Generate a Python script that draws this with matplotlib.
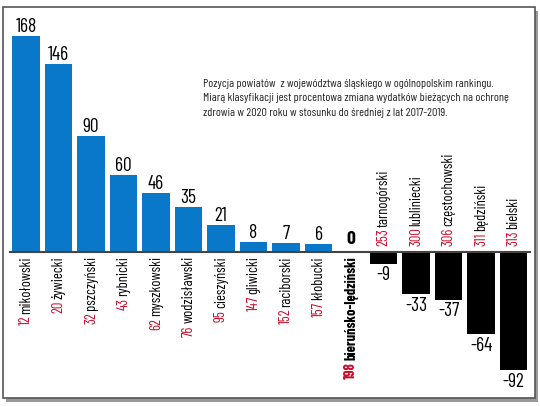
import matplotlib
matplotlib.use("Agg")
import matplotlib.pyplot as plt
from matplotlib.patches import Rectangle
from matplotlib import font_manager

names = ["mikołowski", "żywiecki", "pszczyński", "rybnicki", "myszkowski",
         "wodzisławski", "cieszyński", "gliwicki", "raciborski", "kłobucki",
         "bieruńsko-lędziński", "tarnogórski", "lubliniecki", "częstochowski",
         "będziński", "bielski"]
ranks = [12, 20, 32, 43, 62, 76, 95, 147, 152, 157, 198, 253, 300, 306, 311, 313]
values = [168, 146, 90, 60, 46, 35, 21, 8, 7, 6, 0, -9, -33, -37, -64, -92]
note = ("Pozycja powiatów  z województwa śląskiego w ogólnopolskim rankingu.\n"
        "Miarą klasyfikacji jest procentowa zmiana wydatków bieżących na ochronę\n"
        "zdrowia w 2020 roku w stosunku do średniej z lat 2017-2019.")
highlight = "bieruńsko-lędziński"

avail = {f.name for f in font_manager.fontManager.ttflist}
narrow = "DejaVu Sans"
for cand in ["Barlow Condensed", "Fira Sans Extra Condensed", "Fira Sans Condensed"]:
    if cand in avail:
        narrow = cand
        break
plt.rcParams["font.family"] = [narrow, "DejaVu Sans"]

BLUE = "#0a78c8"
RED = "#c8102e"

fig = plt.figure(figsize=(5.4, 4.07), dpi=100)
# frame with shadow
fig.patches.append(Rectangle((0.012, 0.012), 0.985, 0.96, transform=fig.transFigure,
                             facecolor="#9a9a9a", edgecolor="none", zorder=-5))
fig.patches.append(Rectangle((0.005, 0.022), 0.985, 0.962, transform=fig.transFigure,
                             facecolor="white", edgecolor="#555555", lw=1.2, zorder=-4))

ax = fig.add_axes([0, 0, 1, 1])
ax.set_facecolor("none")
ax.set_xlim(-0.8, 15.815)
ax.set_ylim(-120.5, 196.0)
ax.axis("off")

x = list(range(len(values)))
colors = [BLUE if v > 0 else "black" for v in values]
ax.bar(x, values, width=0.85, color=colors, zorder=2)
ax.plot([-0.5, 15.5], [0, 0], color="#444444", lw=1.5, zorder=3)

FS_VAL = 14
FS_LAB = 10.5
W = "normal"
for xi, v, r, n in zip(x, values, ranks, names):
    bold = "bold" if n == highlight else W
    if v > 0:
        ax.annotate(str(v), (xi, v), xytext=(0, 0), textcoords="offset points",
                    ha="center", va="bottom", fontsize=FS_VAL, fontweight=W)
    elif v < 0:
        ax.annotate(str(v), (xi, v), xytext=(0, -2), textcoords="offset points",
                    ha="center", va="top", fontsize=FS_VAL, fontweight=W)
    else:
        ax.annotate(str(v), (xi, v), xytext=(0, 3), textcoords="offset points",
                    ha="center", va="bottom", fontsize=FS_VAL, fontweight="bold")
    if v >= 0:
        t_name = ax.annotate(n, (xi, 0), xytext=(0, -3), textcoords="offset points",
                             rotation=90, ha="center", va="top", fontsize=FS_LAB,
                             fontweight=bold, color="black")
        ax.annotate(str(r), xy=(0.5, 0), xycoords=t_name, xytext=(0, -1.5),
                    textcoords="offset points", rotation=90, ha="center", va="top",
                    fontsize=FS_LAB, fontweight=bold, color=RED)
    else:
        t_rank = ax.annotate(str(r), (xi, 0), xytext=(0, 4), textcoords="offset points",
                             rotation=90, ha="center", va="bottom", fontsize=FS_LAB,
                             fontweight=W, color=RED)
        ax.annotate(n, xy=(0.5, 1), xycoords=t_rank, xytext=(0, 1.5),
                    textcoords="offset points", rotation=90, ha="center", va="bottom",
                    fontsize=FS_LAB, fontweight=W, color="black")

fig.text(203 / 540, 1 - 79 / 407, note, ha="left", va="top", fontsize=8.6,
         linespacing=1.55, color="#222222")

fig.savefig("out.png", dpi=100)
